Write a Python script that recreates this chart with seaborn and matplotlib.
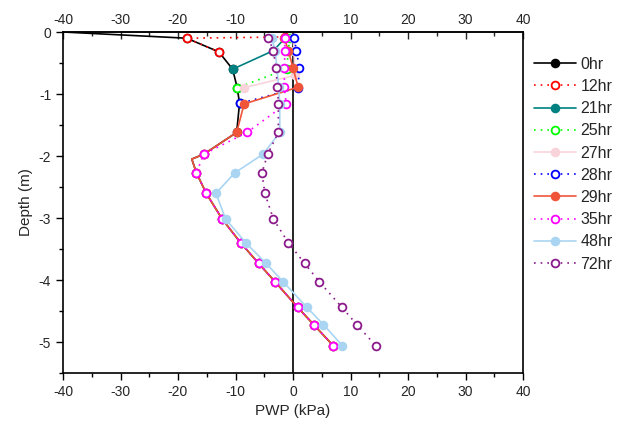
import matplotlib
matplotlib.use("Agg")
import matplotlib.pyplot as plt
import seaborn as sns

sns.set_theme(style="white")
plt.rcParams['font.family'] = ['Liberation Sans', 'DejaVu Sans']
plt.rcParams['axes.unicode_minus'] = False

# depth levels (m) of the sensors
depth_top = [-0.1, -0.3, -0.58, -0.89, -1.16, -1.62]
depth_deep = [-1.97, -2.27, -2.6, -3.02, -3.4, -3.73, -4.03, -4.44, -4.72, -5.06]

# PWP readings (kPa) per time
pwp_0 = [-40, -18.5, -12.9, -10.5, -9.7, -9.3, -9.8, -15.5, -17.6, -16.8, -15.1, -12.3, -9.1, -6.0, -3.1, 0.8, 3.6, 7.0]
dep_0 = [0, -0.1, -0.32, -0.6, -0.9, -1.15, -1.62, -1.97, -2.05, -2.27, -2.6, -3.02, -3.4, -3.73, -4.03, -4.44, -4.72, -5.06]
pwp_12 = [-1.4, -18.5, -12.9]
dep_12 = [-0.08, -0.1, -0.32]
pwp_21 = [-1.4, -3.4, -10.5]
dep_21 = [-0.1, -0.3, -0.6]
pwp_25 = [-0.6, -0.8, -1.1, -9.7]
dep_25 = [-0.1, -0.3, -0.6, -0.9]
pwp_27 = [0.0, 0.2, 0.3, -8.6]
dep_27 = [-0.1, -0.3, -0.7, -0.9]
pwp_28 = [0.2, 0.6, 1.1, 0.9, -9.2]
dep_28 = [-0.1, -0.3, -0.58, -0.9, -1.15]
pwp_29 = [-1.5, -0.8, 0.0, 0.9, -8.5, -9.8, -15.5, -17.6, -16.8, -15.1, -12.3, -9.1, -6.0, -3.1, 0.8, 3.6, 7.0]
dep_29 = depth_top + [-1.97, -2.05] + depth_deep[1:]
pwp_35 = [-1.4, -1.4, -1.5, -1.5, -1.2, -8.0, -15.5, -16.8, -15.1, -12.3, -9.1, -6.0, -3.1, 0.8, 3.6, 7.0]
pwp_48 = [-3.7, -3.1, -2.8, -2.5, -2.3, -2.3, -5.2, -10.1, -13.4, -11.7, -8.2, -4.7, -1.7, 2.4, 5.3, 8.6]
pwp_72 = [-4.3, -3.4, -3.0, -2.7, -2.55, -2.55, -4.4, -5.4, -4.9, -3.4, -0.8, 2.0, 4.6, 8.5, 11.1, 14.4]
dep_all = depth_top + depth_deep

series = [
    ("0hr", pwp_0, dep_0, "black", "-", True, [i for i in range(1, 18) if i != 8]),
    ("12hr", pwp_12, dep_12, "#ff0000", ":", False, None),
    ("21hr", pwp_21, dep_21, "#008080", "-", True, None),
    ("25hr", pwp_25, dep_25, "#00ff00", ":", False, None),
    ("27hr", pwp_27, dep_27, "#f9d3da", "-", True, None),
    ("28hr", pwp_28, dep_28, "#0000ff", ":", False, None),
    ("29hr", pwp_29, dep_29, "#f0553a", "-", True, [i for i in range(17) if i != 7]),
    ("35hr", pwp_35, dep_all, "#ff00ff", ":", False, None),
    ("48hr", pwp_48, dep_all, "#a9d5f2", "-", True, None),
    ("72hr", pwp_72, dep_all, "#8b1a8b", ":", False, None),
]

fig = plt.figure(figsize=(6.2, 4.26), dpi=100)
ax = fig.add_axes([63 / 620, 1 - 373 / 426, 460 / 620, 341 / 426])

ax.axvline(0, color="black", lw=1.2, zorder=1)

for name, xs, ys, col, ls, filled, mev in series:
    sns.lineplot(x=xs, y=ys, sort=False, estimator=None, ax=ax, label=name,
                 color=col, linestyle=ls if ls == "-" else (0, (1, 3)),
                 linewidth=1.2, marker="o", markersize=5.6, markeredgewidth=1.3,
                 markerfacecolor=col if filled else "white", markeredgecolor=col,
                 markevery=mev)

ax.set_xlim(-40, 40)
ax.set_ylim(-5.5, 0)
ax.set_xticks(range(-40, 41, 10))
ax.set_xticks(range(-35, 40, 10), minor=True)
ax.set_yticks(range(-5, 1))
ax.set_yticks([-5.5, -4.5, -3.5, -2.5, -1.5, -0.5], minor=True)
ax.set_xlabel("PWP (kPa)", fontsize=11)
ax.set_ylabel("Depth (m)", fontsize=11)
ax.tick_params(axis="both", which="major", direction="out", length=5, width=1,
               labelsize=10, color="black", bottom=True, left=True)
ax.tick_params(axis="both", which="minor", direction="out", length=3, width=1,
               color="black", bottom=True, left=True)
for sp in ax.spines.values():
    sp.set_color("black")
    sp.set_linewidth(1.2)

top = ax.secondary_xaxis("top")
top.set_xticks(range(-40, 41, 10))
top.set_xticks(range(-35, 40, 10), minor=True)
top.tick_params(which="major", direction="in", length=5, width=1, labelsize=10)
top.tick_params(which="minor", direction="in", length=3, width=1)
top.spines["top"].set_linewidth(1.2)

ax.legend(loc="upper left", bbox_to_anchor=(1.0, 0.96), frameon=False,
          fontsize=11.5, handlelength=2.6, labelspacing=0.45, handletextpad=0.3,
          borderaxespad=0.3)

fig.savefig("out.png", dpi=100)
